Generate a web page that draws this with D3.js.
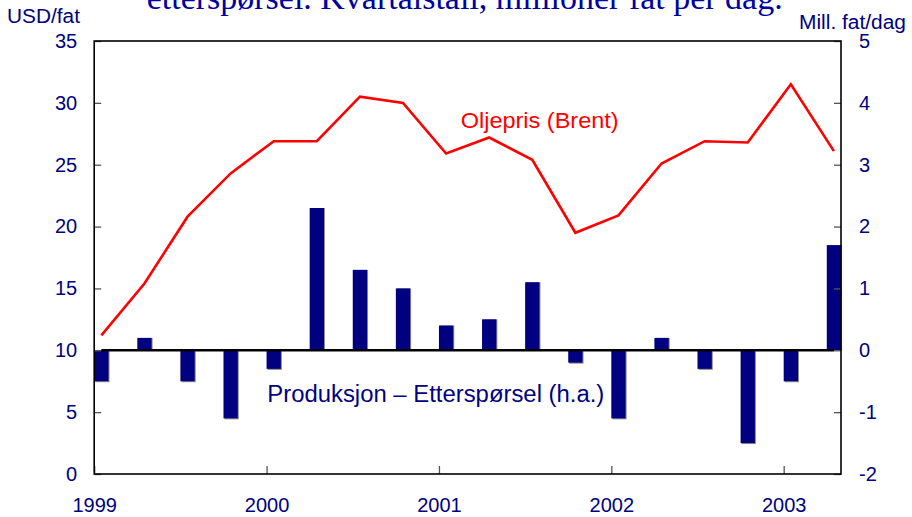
<!DOCTYPE html>
<html>
<head>
<meta charset="utf-8">
<script src="https://cdn.jsdelivr.net/npm/d3@7"></script>
<style>
  html, body { margin: 0; padding: 0; background: #fff; }
  svg { display: block; }
  text { font-family: "Liberation Sans", Arial, sans-serif; }
</style>
</head>
<body>
<svg id="chart" width="912" height="517"></svg>
<script>
// Quarterly data, 1999 Q1 – 2003 Q2
const quarters = ["1999K1","1999K2","1999K3","1999K4","2000K1","2000K2","2000K3","2000K4",
                  "2001K1","2001K2","2001K3","2001K4","2002K1","2002K2","2002K3","2002K4",
                  "2003K1","2003K2"];
// Brent oil price, USD per barrel (left axis)
const oilPrice = [11.2, 15.4, 20.8, 24.3, 26.9, 26.9, 30.5, 30.0, 25.9, 27.2, 25.4, 19.5,
                  20.9, 25.1, 26.9, 26.8, 31.5, 26.1];
// Production minus demand, million barrels per day (right axis)
const balance = [-0.5, 0.2, -0.5, -1.1, -0.3, 2.3, 1.3, 1.0, 0.4, 0.5, 1.1, -0.2,
                 -1.1, 0.2, -0.3, -1.5, -0.5, 1.7];
const yearTicks = [1999, 2000, 2001, 2002, 2003];
const leftTicks = [0, 5, 10, 15, 20, 25, 30, 35];
const rightTicks = [-2, -1, 0, 1, 2, 3, 4, 5];

const navy = "#000080";
const svg = d3.select("#chart");

const plot = { left: 94.2, right: 841, top: 41, bottom: 474 };

// Quarter index scale; year boundaries fall on every fourth quarter
const x = d3.scaleLinear().domain([0, 17.33]).range([plot.left, plot.right]);
const yL = d3.scaleLinear().domain([0, 35]).range([plot.bottom, plot.top]);
const yR = d3.scaleLinear().domain([-2, 5]).range([plot.bottom, plot.top]);
const step = x(1) - x(0);
const barW = step * 0.332;

// Title line (second line of the figure heading)
svg.append("text")
  .attr("x", 146.7).attr("y", 9)
  .attr("textLength", 636).attr("lengthAdjust", "spacingAndGlyphs")
  .style("font-family", "'Liberation Serif', 'Times New Roman', serif")
  .style("font-size", "34px")
  .attr("fill", "#0000a0")
  .text("etterspørsel. Kvartalstall, millioner fat per dag.");

// Unit labels
svg.append("text").attr("x", 7).attr("y", 23.3)
  .attr("fill", navy).style("font-size", "20px")
  .attr("textLength", 73).attr("lengthAdjust", "spacingAndGlyphs")
  .text("USD/fat");
svg.append("text").attr("x", 906).attr("y", 28.5)
  .attr("text-anchor", "end")
  .attr("fill", navy).style("font-size", "19.5px")
  .attr("textLength", 107).attr("lengthAdjust", "spacingAndGlyphs")
  .text("Mill. fat/dag");

// Bars: shadow then navy fill
const bars = svg.append("g");
bars.selectAll("rect.shadow").data(balance).join("rect")
  .attr("class", "shadow")
  .attr("x", (d, i) => x(i) + 1)
  .attr("y", d => Math.min(yR(d), yR(0)) + (d < 0 ? 1 : 0))
  .attr("width", barW)
  .attr("height", d => Math.abs(yR(d) - yR(0)))
  .attr("fill", "#8a8a8a");
bars.selectAll("rect.bar").data(balance).join("rect")
  .attr("class", "bar")
  .attr("x", (d, i) => x(i))
  .attr("y", d => Math.min(yR(d), yR(0)))
  .attr("width", barW)
  .attr("height", d => Math.abs(yR(d) - yR(0)))
  .attr("fill", navy);

// Zero line for the balance series
svg.append("line")
  .attr("x1", x(0) + barW / 2).attr("x2", x(balance.length - 1) + barW / 2)
  .attr("y1", yR(0)).attr("y2", yR(0))
  .attr("stroke", "#000").attr("stroke-width", 2.5);

// Oil price line
const line = d3.line()
  .x((d, i) => x(i) + barW / 2)
  .y(d => yL(d));
svg.append("path")
  .datum(oilPrice)
  .attr("d", line)
  .attr("fill", "none")
  .attr("stroke", "#ff0000")
  .attr("stroke-width", 2.6)
  .attr("stroke-linejoin", "miter");

// Axes
function styleAxis(g) {
  g.select(".domain").remove();
  g.selectAll(".tick line").attr("stroke", "#555").attr("stroke-width", 1.3);
  g.selectAll(".tick text").attr("fill", navy)
    .style("font-size", "20px")
    .style("font-family", "'Liberation Sans', Arial, sans-serif");
}

svg.append("g")
  .attr("transform", `translate(${plot.left},0)`)
  .call(d3.axisLeft(yL).tickValues(leftTicks).tickSizeInner(-7).tickSizeOuter(0).tickPadding(17))
  .call(styleAxis);

svg.append("g")
  .attr("transform", `translate(${plot.right},0)`)
  .call(d3.axisRight(yR).tickValues(rightTicks).tickSizeInner(-7).tickSizeOuter(0).tickPadding(18)
        .tickFormat(d => String(d)))
  .call(styleAxis);

svg.append("g")
  .attr("transform", `translate(0,${plot.bottom})`)
  .call(d3.axisBottom(x).tickValues(yearTicks.map(yv => (yv - 1999) * 4))
        .tickFormat((d, i) => String(yearTicks[i]))
        .tickSizeInner(-8).tickSizeOuter(0).tickPadding(23.5))
  .call(styleAxis);

// Frame
svg.append("rect")
  .attr("x", plot.left).attr("y", plot.top)
  .attr("width", plot.right - plot.left).attr("height", plot.bottom - plot.top)
  .attr("fill", "none").attr("stroke", "#000").attr("stroke-width", 1.6);

// Series labels
svg.append("text").attr("x", 460.7).attr("y", 127.5)
  .attr("fill", "#ff0000").style("font-size", "22px")
  .attr("textLength", 158).attr("lengthAdjust", "spacingAndGlyphs")
  .text("Oljepris (Brent)");
svg.append("text").attr("x", 267.3).attr("y", 402)
  .attr("fill", navy).style("font-size", "23.5px")
  .attr("textLength", 337).attr("lengthAdjust", "spacingAndGlyphs")
  .text("Produksjon – Etterspørsel (h.a.)");
</script>
</body>
</html>
